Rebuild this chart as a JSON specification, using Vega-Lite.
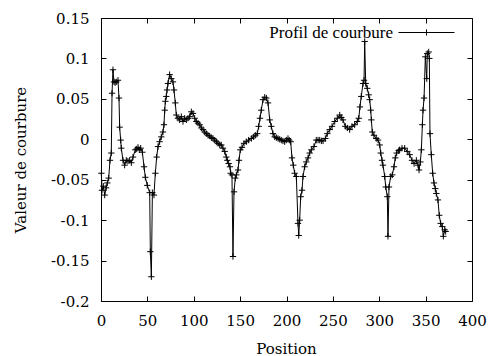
{
  "$schema": "https://vega.github.io/schema/vega-lite/v6.json",
  "width": 371,
  "height": 283,
  "autosize": "none",
  "padding": {"left": 101, "top": 18, "right": 16, "bottom": 55},
  "background": "white",
  "config": {
    "view": {"stroke": "black", "strokeWidth": 1},
    "axis": {"domain": false, "grid": false, "labelFlush": false, "tickColor": "black", "tickWidth": 1, "labelColor": "black", "titleColor": "black", "labelFont": "DejaVu Serif", "titleFont": "DejaVu Serif", "labelFontSize": 15, "titleFontSize": 15, "titleFontWeight": "normal"}
  },
  "data": {
    "values": [
      {"p": 0.4, "v": -0.042}, {"p": 1.1, "v": -0.063}, {"p": 2.5, "v": -0.058}, {"p": 4, "v": -0.069}, {"p": 5.5, "v": -0.06}, {"p": 6.8, "v": -0.054}, {"p": 8.3, "v": -0.048}, {"p": 9.7, "v": -0.026}, {"p": 11.1, "v": -0.017}, {"p": 11.9, "v": 0.057}, {"p": 12.9, "v": 0.086}, {"p": 14, "v": 0.071}, {"p": 15.2, "v": 0.07}, {"p": 16.5, "v": 0.071}, {"p": 18.3, "v": 0.073}, {"p": 19.4, "v": 0.051}, {"p": 20.1, "v": 0.015}, {"p": 21.2, "v": -0.001}, {"p": 21.9, "v": -0.011}, {"p": 23.7, "v": -0.026}, {"p": 25.5, "v": -0.032}, {"p": 27.3, "v": -0.026}, {"p": 29, "v": -0.027}, {"p": 30.9, "v": -0.026}, {"p": 32.7, "v": -0.029}, {"p": 34.5, "v": -0.022}, {"p": 37, "v": -0.013}, {"p": 38.5, "v": -0.012}, {"p": 39.9, "v": -0.01}, {"p": 41.3, "v": -0.013}, {"p": 42.8, "v": -0.011}, {"p": 44.6, "v": -0.016}, {"p": 46.4, "v": -0.034}, {"p": 47.8, "v": -0.047}, {"p": 49.9, "v": -0.057}, {"p": 52.5, "v": -0.066}, {"p": 53.2, "v": -0.139}, {"p": 54.3, "v": -0.17}, {"p": 55.4, "v": -0.066}, {"p": 57.1, "v": -0.069}, {"p": 58.6, "v": -0.042}, {"p": 60, "v": -0.022}, {"p": 61.5, "v": -0.009},
      {"p": 63.2, "v": -0.003}, {"p": 65, "v": 0.003}, {"p": 66.8, "v": 0.009}, {"p": 67.9, "v": 0.018}, {"p": 68.7, "v": 0.036}, {"p": 69.4, "v": 0.047}, {"p": 70.4, "v": 0.053}, {"p": 71.2, "v": 0.061}, {"p": 72.2, "v": 0.069}, {"p": 74, "v": 0.08}, {"p": 75.8, "v": 0.075}, {"p": 77.6, "v": 0.071}, {"p": 78.7, "v": 0.061}, {"p": 80.1, "v": 0.045}, {"p": 81.2, "v": 0.03}, {"p": 83, "v": 0.026}, {"p": 84.8, "v": 0.024}, {"p": 86.6, "v": 0.028}, {"p": 88.4, "v": 0.022}, {"p": 90.2, "v": 0.026}, {"p": 92, "v": 0.024}, {"p": 93.8, "v": 0.026}, {"p": 95.6, "v": 0.028}, {"p": 97.4, "v": 0.034}, {"p": 99.2, "v": 0.032}, {"p": 101, "v": 0.026}, {"p": 102.8, "v": 0.022}, {"p": 104.6, "v": 0.02}, {"p": 106.4, "v": 0.018}, {"p": 108.2, "v": 0.014}, {"p": 110, "v": 0.012}, {"p": 111.8, "v": 0.009}, {"p": 113.6, "v": 0.007}, {"p": 115.4, "v": 0.005}, {"p": 117.2, "v": 0.004}, {"p": 119, "v": 0.002}, {"p": 120.8, "v": 0.001}, {"p": 122.6, "v": -0.001}, {"p": 124.4, "v": -0.003}, {"p": 126.2, "v": -0.005}, {"p": 128, "v": -0.007},
      {"p": 129.7, "v": -0.007}, {"p": 131.5, "v": -0.011}, {"p": 133.4, "v": -0.015}, {"p": 135.1, "v": -0.022}, {"p": 136.2, "v": -0.026}, {"p": 137.6, "v": -0.03}, {"p": 139.1, "v": -0.034}, {"p": 139.8, "v": -0.042}, {"p": 141.2, "v": -0.044}, {"p": 142.3, "v": -0.145}, {"p": 143.4, "v": -0.065}, {"p": 144.8, "v": -0.048}, {"p": 145.9, "v": -0.044}, {"p": 147.7, "v": -0.038}, {"p": 148.8, "v": -0.026}, {"p": 150.2, "v": -0.013}, {"p": 152, "v": -0.01}, {"p": 154.2, "v": -0.005}, {"p": 156.7, "v": -0.003}, {"p": 159.2, "v": -0.001}, {"p": 162.1, "v": 0.001}, {"p": 164.6, "v": 0.003}, {"p": 166.4, "v": 0.005}, {"p": 168.5, "v": 0.007}, {"p": 170, "v": 0.016}, {"p": 171.4, "v": 0.026}, {"p": 172.8, "v": 0.036}, {"p": 174.7, "v": 0.049}, {"p": 176.5, "v": 0.052}, {"p": 178.3, "v": 0.051}, {"p": 180.1, "v": 0.045}, {"p": 181.9, "v": 0.024}, {"p": 183.6, "v": 0.016}, {"p": 185.4, "v": 0.007}, {"p": 187.3, "v": 0.003}, {"p": 189.1, "v": 0.002}, {"p": 190.9, "v": 0.001}, {"p": 192.7, "v": 0},
      {"p": 194.4, "v": -0.001}, {"p": 196.2, "v": -0.002}, {"p": 198, "v": -0.003}, {"p": 199.8, "v": -0.001}, {"p": 201.6, "v": 0.001}, {"p": 203, "v": -0.001}, {"p": 204.5, "v": -0.003}, {"p": 205.9, "v": -0.023}, {"p": 207.3, "v": -0.032}, {"p": 208.8, "v": -0.042}, {"p": 210.6, "v": -0.046}, {"p": 212.4, "v": -0.104}, {"p": 213.2, "v": -0.119}, {"p": 214.2, "v": -0.1}, {"p": 215.3, "v": -0.071}, {"p": 216.7, "v": -0.063}, {"p": 217.8, "v": -0.046}, {"p": 219.6, "v": -0.034}, {"p": 221.3, "v": -0.028}, {"p": 223.2, "v": -0.023}, {"p": 225, "v": -0.017}, {"p": 226.8, "v": -0.013}, {"p": 229.6, "v": -0.009}, {"p": 232.1, "v": -0.001}, {"p": 234, "v": -0.001}, {"p": 235.8, "v": -0.001}, {"p": 237.6, "v": -0.002}, {"p": 239.4, "v": -0.002}, {"p": 241.9, "v": 0.001}, {"p": 244, "v": 0.007}, {"p": 246.6, "v": 0.012}, {"p": 249.1, "v": 0.016}, {"p": 252, "v": 0.022}, {"p": 254.8, "v": 0.026}, {"p": 257.4, "v": 0.03},
      {"p": 259.1, "v": 0.027}, {"p": 260.9, "v": 0.024}, {"p": 263.4, "v": 0.016}, {"p": 265.6, "v": 0.014}, {"p": 268.1, "v": 0.012}, {"p": 270.6, "v": 0.016}, {"p": 273.5, "v": 0.018}, {"p": 276.3, "v": 0.022}, {"p": 277.9, "v": 0.026}, {"p": 279.2, "v": 0.04}, {"p": 280.6, "v": 0.053}, {"p": 282.5, "v": 0.069}, {"p": 283.6, "v": 0.073}, {"p": 284.3, "v": 0.121}, {"p": 285.4, "v": 0.069}, {"p": 287.1, "v": 0.063}, {"p": 288.6, "v": 0.055}, {"p": 289.7, "v": 0.049}, {"p": 290.8, "v": 0.036}, {"p": 291.5, "v": 0.024}, {"p": 292.5, "v": 0.009}, {"p": 294.3, "v": 0.005}, {"p": 296.8, "v": 0.001}, {"p": 298.7, "v": -0.001}, {"p": 300.5, "v": -0.007}, {"p": 301.6, "v": -0.017}, {"p": 303, "v": -0.026}, {"p": 304, "v": -0.032}, {"p": 305.9, "v": -0.046}, {"p": 307, "v": -0.059}, {"p": 308.7, "v": -0.071}, {"p": 309.4, "v": -0.12}, {"p": 310.5, "v": -0.059}, {"p": 312.3, "v": -0.046}, {"p": 314.1, "v": -0.044}, {"p": 315.9, "v": -0.034}, {"p": 317.3, "v": -0.023}, {"p": 318.8, "v": -0.017}, {"p": 321, "v": -0.014},
      {"p": 322, "v": -0.013}, {"p": 324.5, "v": -0.011}, {"p": 327.4, "v": -0.011}, {"p": 330.2, "v": -0.015}, {"p": 332.8, "v": -0.019}, {"p": 335.3, "v": -0.026}, {"p": 337.5, "v": -0.03}, {"p": 340, "v": -0.026}, {"p": 341.8, "v": -0.032}, {"p": 342.9, "v": -0.038}, {"p": 344.3, "v": -0.028}, {"p": 345.4, "v": -0.013}, {"p": 346.5, "v": 0.018}, {"p": 347.2, "v": 0.036}, {"p": 348.3, "v": 0.051}, {"p": 349.7, "v": 0.102}, {"p": 351.2, "v": 0.075}, {"p": 351.8, "v": 0.106}, {"p": 353.3, "v": 0.108}, {"p": 354, "v": 0.1}, {"p": 354.7, "v": 0.007}, {"p": 356.1, "v": -0.019}, {"p": 357.6, "v": -0.042}, {"p": 359, "v": -0.054}, {"p": 360.4, "v": -0.061}, {"p": 361.5, "v": -0.067}, {"p": 363.3, "v": -0.075}, {"p": 364.7, "v": -0.094}, {"p": 366.2, "v": -0.104}, {"p": 368, "v": -0.108}, {"p": 369.1, "v": -0.12}, {"p": 370.6, "v": -0.112}, {"p": 371.6, "v": -0.114}
    ]
  },
  "layer": [
    {
      "mark": {"type": "line", "strokeWidth": 1},
      "encoding": {
        "x": {"field": "p", "type": "quantitative", "scale": {"domain": [0, 400], "nice": false, "zero": false},
              "axis": {"orient": "bottom", "values": [0, 50, 100, 150, 200, 250, 300, 350, 400], "tickSize": -5, "labelPadding": 17, "labelFlush": false, "labelFont": "DejaVu Serif", "titleFont": "DejaVu Serif", "title": "Position", "titleX": 185, "titleY": 52, "titleBaseline": "alphabetic", "titleAlign": "center"}},
        "y": {"field": "v", "type": "quantitative", "scale": {"domain": [-0.2, 0.15], "nice": false, "zero": false},
              "axis": {"orient": "left", "values": [-0.2, -0.15, -0.1, -0.05, 0, 0.05, 0.1, 0.15], "tickSize": -5, "labelPadding": 17, "labelFlush": false, "labelFont": "DejaVu Serif", "titleFont": "DejaVu Serif", "labelExpr": "replace(format(datum.value, '~g'), '\u2212', '-')", "title": "Valeur de courbure", "titleX": -76, "titleY": 141.5, "titleAngle": -90, "titleBaseline": "alphabetic", "titleAlign": "center"}},
        "color": {"datum": "Profil de courbure", "type": "nominal", "scale": {"range": ["black"]},
                  "legend": {"title": null, "orient": "none", "legendX": 297, "legendY": -14, "padding": 0, "symbolType": "M-1,0H1M0,-0.11V0.11", "symbolSize": 3136, "symbolStrokeWidth": 1, "symbolStrokeColor": "black", "symbolFillColor": "transparent", "labelFont": "Liberation Serif", "labelFontSize": 17, "labelColor": "black", "labelAlign": "right", "labelOffset": -62, "labelLimit": 400}}
      }
    },
    {
      "mark": {"type": "point", "shape": "M-1,0H1M0,-1V1", "filled": false, "color": "black", "size": 40, "strokeWidth": 1, "opacity": 1},
      "encoding": {
        "x": {"field": "p", "type": "quantitative", "axis": {"orient": "top", "values": [0, 50, 100, 150, 200, 250, 300, 350, 400], "tickSize": -5, "labels": false, "title": null}},
        "y": {"field": "v", "type": "quantitative", "axis": {"orient": "right", "values": [-0.2, -0.15, -0.1, -0.05, 0, 0.05, 0.1, 0.15], "tickSize": -5, "labels": false, "title": null}}
      }
    }
  ],
  "resolve": {"axis": {"x": "independent", "y": "independent"}}
}
